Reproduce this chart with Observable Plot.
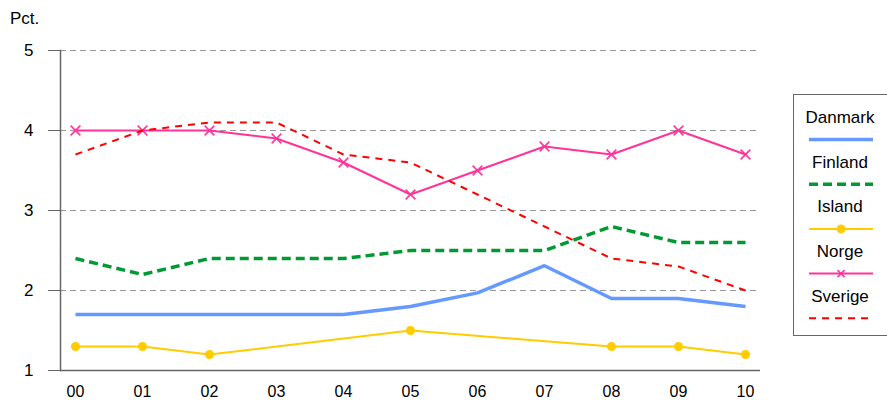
<!DOCTYPE html>
<html><head><meta charset="utf-8">
<script src="https://cdn.jsdelivr.net/npm/d3@7"></script>
<script src="https://cdn.jsdelivr.net/npm/@observablehq/plot@0.6"></script>
<style>
body{margin:0;background:#fff;font-family:Arial,"Liberation Sans",sans-serif;}
#wrap{position:relative;width:887px;height:400px;overflow:hidden;}
#ylabel{position:absolute;left:10px;top:9px;font-size:17px;color:#000;}
#legend{position:absolute;left:793px;top:94px;width:120px;height:242px;border:1px solid #666;box-sizing:border-box;}
</style>
</head><body>
<div id="wrap"><div id="ylabel">Pct.</div><div id="legend"></div></div>
<script>
const years = ["00","01","02","03","04","05","06","07","08","09","10"];
const danmark = [1.7,1.7,1.7,1.7,1.7,1.8,1.97,2.31,1.9,1.9,1.8];
const finland = [2.4,2.2,2.4,2.4,2.4,2.5,2.5,2.5,2.8,2.6,2.6];
const island  = [1.3,1.3,1.2,null,null,1.5,null,null,1.3,1.3,1.2];
const norge   = [4.0,4.0,4.0,3.9,3.6,3.2,3.5,3.8,3.7,4.0,3.7];
const sverige = [3.7,4.0,4.1,4.1,3.7,3.6,3.2,2.8,2.4,2.3,2.0];
const yTicks = [1,2,3,4,5];
const gridTicks = [2,3,4,5];

const series = [
  {name:"Danmark", values:danmark, color:"#6699ff", width:3.5, dash:null, marker:null},
  {name:"Finland", values:finland, color:"#009933", width:3.5, dash:"9,5", marker:null},
  {name:"Island",  values:island,  color:"#ffcc00", width:2,   dash:null, marker:"circle"},
  {name:"Norge",   values:norge,   color:"#ff3399", width:2,   dash:null, marker:"times"},
  {name:"Sverige", values:sverige, color:"#ff0000", width:2,   dash:"7,6", marker:null}
];

const toRows = s => years.map((y,i)=>({year:y, value:s.values[i]})).filter(d=>d.value!=null);

const marks = [
  Plot.ruleY(gridTicks, {stroke:"#999", strokeDasharray:"6,4", strokeWidth:1}),
  Plot.axisY(yTicks, {tickSize:12, tickPadding:15, fontSize:17, label:null, stroke:"#666", fill:"#000", tickFormat:"d"}),
  Plot.axisX({tickSize:0, tickPadding:15, fontSize:16, label:null, fill:"#000"}),
  Plot.ruleY([1], {stroke:"#666", strokeWidth:1.5}),
  Plot.frame({anchor:"left", stroke:"#666", strokeWidth:1.5})
];
for (const s of series) {
  const rows = toRows(s);
  marks.push(Plot.line(rows, {x:"year", y:"value", stroke:s.color, strokeWidth:s.width,
    strokeDasharray:s.dash || undefined, strokeLinejoin:"miter", strokeLinecap:"butt"}));
  if (s.marker === "circle") marks.push(Plot.dot(rows, {x:"year", y:"value", r:4.5, fill:s.color, stroke:"none"}));
  if (s.marker === "times") marks.push(Plot.dot(rows, {x:"year", y:"value", symbol:"times", r:4.5, stroke:s.color, strokeWidth:1.5}));
}

const chart = Plot.plot({
  width:887, height:400,
  marginLeft:60, marginRight:127, marginTop:50, marginBottom:30,
  style:{fontFamily:"Arial, 'Liberation Sans', sans-serif", fontSize:"16px", color:"#000", background:"transparent"},
  x:{type:"point", domain:years, padding:0.17},
  y:{domain:[1,5]},
  marks
});
const wrap = document.getElementById("wrap");
wrap.insertBefore(chart, wrap.firstChild);

// legend
const ns = "http://www.w3.org/2000/svg";
const lsvg = document.createElementNS(ns, "svg");
lsvg.setAttribute("width", 120); lsvg.setAttribute("height", 242);
lsvg.style.position = "absolute"; lsvg.style.left = "-1px"; lsvg.style.top = "-1px";
series.forEach((s, i) => {
  const y0 = 29 + i * 44.7;
  const t = document.createElementNS(ns, "text");
  t.setAttribute("x", 47); t.setAttribute("y", y0);
  t.setAttribute("text-anchor", "middle");
  t.setAttribute("font-size", 17);
  t.setAttribute("font-family", "Arial, 'Liberation Sans', sans-serif");
  t.textContent = s.name;
  lsvg.appendChild(t);
  const ly = y0 + 16.5;
  const l = document.createElementNS(ns, "line");
  l.setAttribute("x1", 16); l.setAttribute("x2", 80);
  l.setAttribute("y1", ly); l.setAttribute("y2", ly);
  l.setAttribute("stroke", s.color); l.setAttribute("stroke-width", s.width);
  if (s.dash) l.setAttribute("stroke-dasharray", s.dash);
  lsvg.appendChild(l);
  if (s.marker === "circle") {
    const c = document.createElementNS(ns, "circle");
    c.setAttribute("cx", 48); c.setAttribute("cy", ly); c.setAttribute("r", 4.5);
    c.setAttribute("fill", s.color); lsvg.appendChild(c);
  }
  if (s.marker === "times") {
    const p = document.createElementNS(ns, "path");
    p.setAttribute("d", `M${44.5},${ly-3.5}L${51.5},${ly+3.5}M${44.5},${ly+3.5}L${51.5},${ly-3.5}`);
    p.setAttribute("stroke", s.color); p.setAttribute("stroke-width", 1.5);
    lsvg.appendChild(p);
  }
});
document.getElementById("legend").appendChild(lsvg);
</script>
</body></html>
